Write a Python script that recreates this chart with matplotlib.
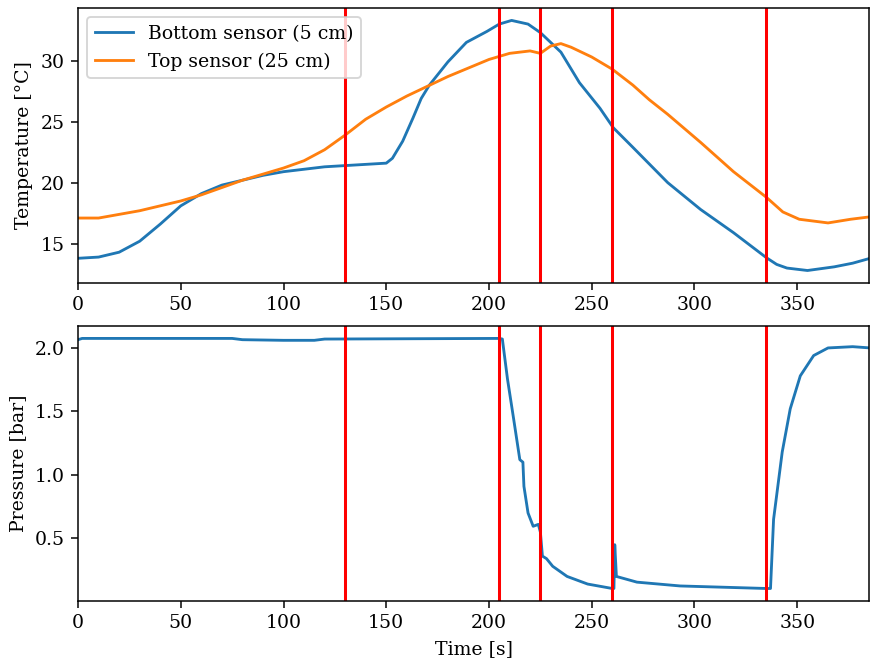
import numpy as np
import matplotlib.pyplot as plt

plt.rcParams['font.family'] = 'DejaVu Serif'
plt.rcParams['font.size'] = 10

# bottom sensor temperature (5 cm)
t_bottom = [0, 10, 20, 30, 40, 50, 60, 70, 80, 90, 100, 110, 120, 130, 140, 150, 153,
            158, 163, 167, 171, 180, 189, 199, 205, 211, 219, 225, 235, 244, 254, 260.5,
            270, 287, 303, 319, 335, 340, 345, 355, 368, 377, 385.5]
temp_bottom = [13.8, 13.9, 14.3, 15.2, 16.6, 18.1, 19.1, 19.8, 20.2, 20.6, 20.9, 21.1, 21.3,
               21.4, 21.5, 21.6, 22.0, 23.4, 25.3, 26.9, 28.0, 29.9, 31.5, 32.4, 33.0, 33.3,
               33.0, 32.3, 30.7, 28.2, 26.1, 24.5, 22.9, 20.0, 17.8, 15.9, 13.85, 13.3, 13.0,
               12.8, 13.1, 13.4, 13.8]

# top sensor temperature (25 cm)
t_top = [0, 10, 20, 30, 40, 50, 60, 70, 80, 90, 100, 110, 120, 130, 140, 150, 160, 170,
         180, 190, 200, 210, 220, 225, 230, 235, 240, 250, 260, 270, 278, 287, 303, 319,
         335, 343, 351, 365, 376, 385.5]
temp_top = [17.1, 17.1, 17.4, 17.7, 18.1, 18.5, 19.0, 19.6, 20.2, 20.7, 21.2, 21.8, 22.7,
            23.9, 25.2, 26.2, 27.1, 27.9, 28.7, 29.4, 30.1, 30.6, 30.8, 30.6, 31.2, 31.4,
            31.1, 30.3, 29.3, 28.0, 26.8, 25.6, 23.3, 20.9, 18.8, 17.6, 17.0, 16.7, 17.0, 17.2]

# pressure
t_pressure = [0, 2, 75, 80, 100, 115, 120, 205, 206.5, 209, 212, 215, 216.5, 217, 219, 221.5,
              224, 225, 226, 228, 231, 238, 248, 260, 260.8, 261.2, 262, 272, 293, 335, 337,
              338.5, 342.7, 346.6, 351.5, 358, 365, 377, 385.5]
pressure = [2.065, 2.075, 2.075, 2.065, 2.06, 2.06, 2.07, 2.075, 2.07, 1.755, 1.44, 1.12,
            1.10, 0.91, 0.70, 0.595, 0.61, 0.55, 0.36, 0.34, 0.28, 0.20, 0.14, 0.105, 0.105,
            0.45, 0.20, 0.155, 0.125, 0.105, 0.105, 0.65, 1.18, 1.52, 1.78, 1.94, 2.0, 2.01, 2.0]

# phase boundaries
events = [130, 205, 225, 260, 335]
t_max = 385

fig, (ax1, ax2) = plt.subplots(2, 1, figsize=(870 / 136, 660 / 136), dpi=136)
fig.subplots_adjust(left=0.0897, right=0.999, top=0.988, bottom=0.0894, hspace=0.156)

ax1.plot(t_bottom, temp_bottom, label='Bottom sensor (5 cm)')
ax1.plot(t_top, temp_top, label='Top sensor (25 cm)')
ax1.set_ylabel('Temperature [°C]')
ax1.legend(loc='upper left')

ax2.plot(t_pressure, pressure)
ax2.set_ylabel('Pressure [bar]')
ax2.set_xlabel('Time [s]')

for ax in (ax1, ax2):
    for e in events:
        ax.axvline(e, color='red', linewidth=1.6)
    ax.set_xlim(0, t_max)

plt.savefig('out.png', dpi=136)
